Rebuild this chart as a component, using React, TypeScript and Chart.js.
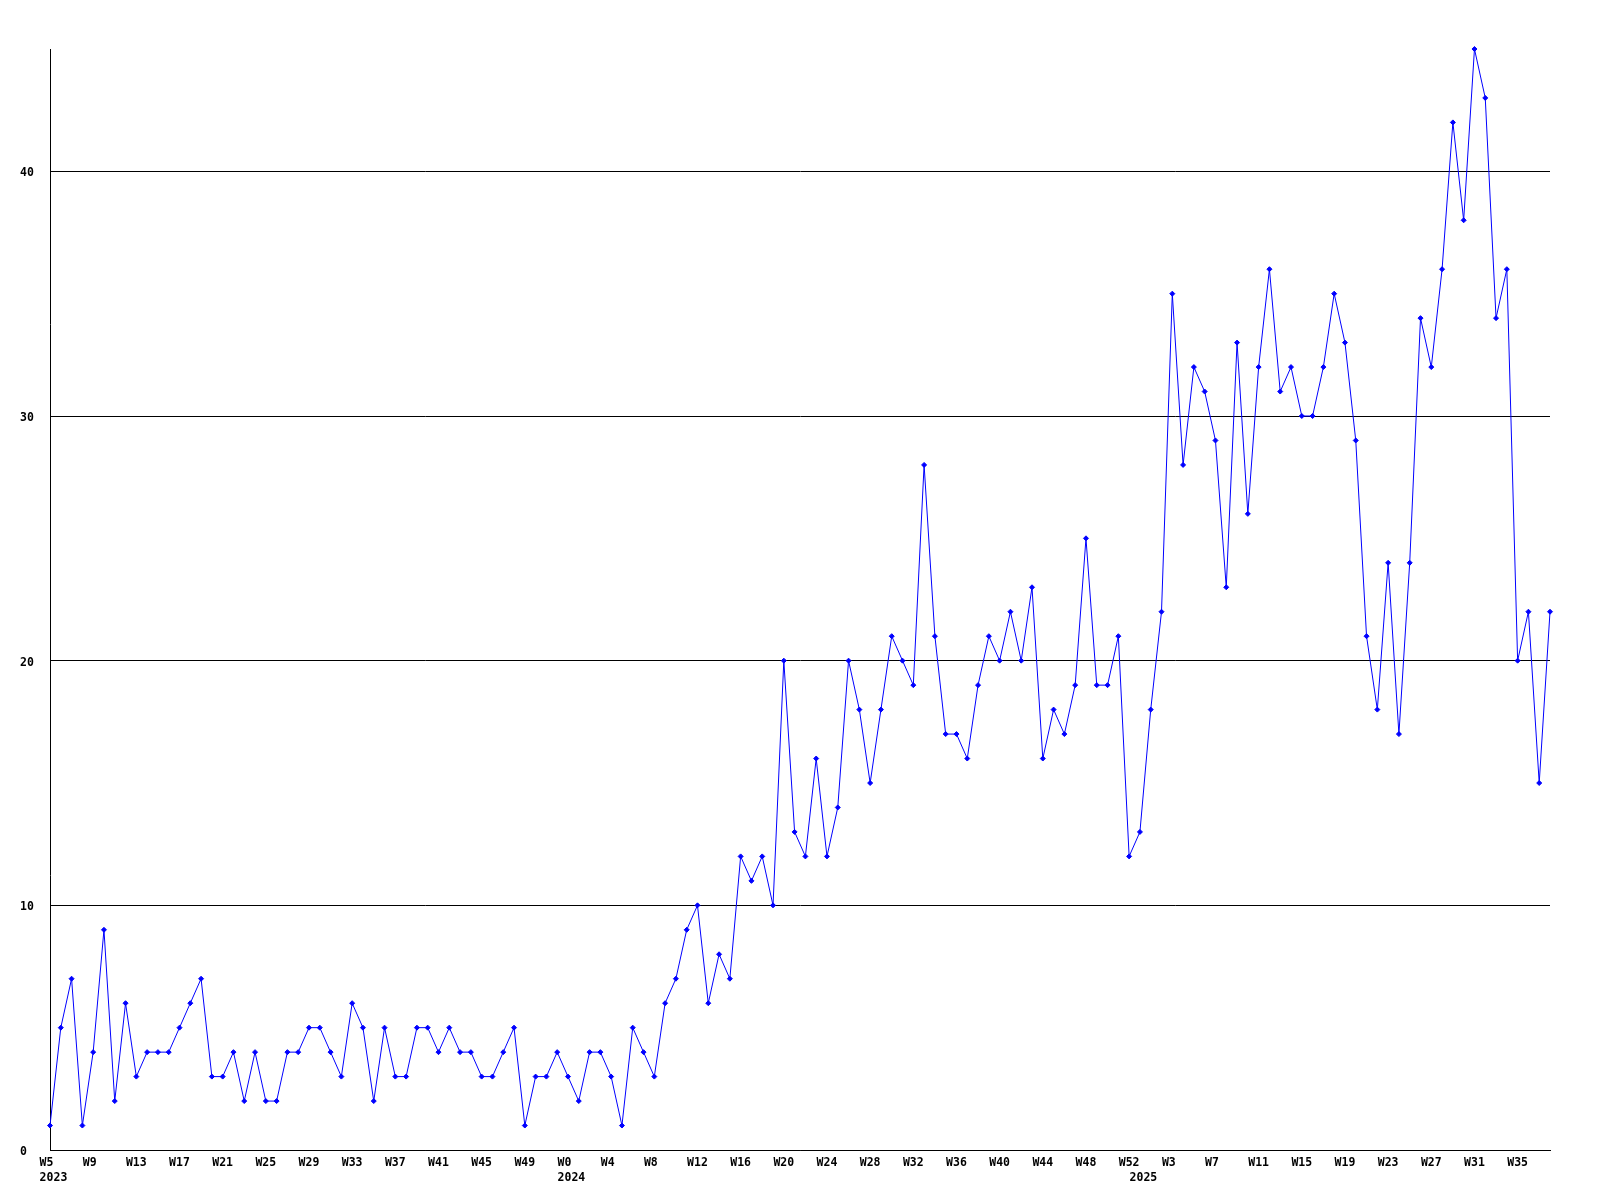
import React, { useEffect, useRef } from "react";
import { Chart, registerables } from "chart.js";

Chart.register(...registerables);

// Week ranges per year (first week, last week)
const years = [2023, 2024, 2025];
const firstWeeks = [5, 0, 0];
const lastWeeks = [52, 52, 38];

// Weekly counts, W5 2023 .. W38 2025
const values2023 = [
  1, 5, 7, 1, 4, 9, 2, 6, 3, 4, 4, 4, 5, 6, 7, 3, 3, 4, 2, 4, 2, 2, 4, 4,
  5, 5, 4, 3, 6, 5, 2, 5, 3, 3, 5, 5, 4, 5, 4, 4, 3, 3, 4, 5, 1, 3, 3, 4,
];
const values2024 = [
  3, 2, 4, 4, 3, 1, 5, 4, 3, 6, 7, 9, 10, 6, 8, 7, 12, 11, 12, 10, 20, 13,
  12, 16, 12, 14, 20, 18, 15, 18, 21, 20, 19, 28, 21, 17, 17, 16, 19, 21, 20,
  22, 20, 23, 16, 18, 17, 19, 25, 19, 19, 21, 12,
];
const values2025 = [
  13, 18, 22, 35, 28, 32, 31, 29, 23, 33, 26, 32, 36, 31, 32, 30, 30, 32, 35,
  33, 29, 21, 18, 24, 17, 24, 34, 32, 36, 42, 38, 45, 43, 34, 36, 20, 22, 15,
  22,
];

const yTicks = [0, 10, 20, 30, 40];
const yMax = 45;

const categories: string[] = [];
const yearOfIndex: number[] = [];
years.forEach((y, yi) => {
  for (let w = firstWeeks[yi]; w <= lastWeeks[yi]; w++) {
    categories.push("W" + w);
    yearOfIndex.push(y);
  }
});
const seriesValues = [...values2023, ...values2024, ...values2025];

const FAMILY = "'DejaVu Sans Mono', monospace";
const XFONT = { family: FAMILY, size: 11.5, weight: "bold" as const, lineHeight: 1.3 };
const YFONT = { family: FAMILY, size: 11.5, weight: "bold" as const, lineHeight: "4px" };

export default function App() {
  const ref = useRef<HTMLCanvasElement | null>(null);

  useEffect(() => {
    if (!ref.current) return;
    const chart = new Chart(ref.current, {
      type: "line",
      data: {
        labels: categories,
        datasets: [
          {
            data: seriesValues,
            borderColor: "#0000ff",
            backgroundColor: "#0000ff",
            borderWidth: 1,
            tension: 0,
            fill: false,
            pointStyle: "rectRot",
            pointRadius: 2.5,
            pointBorderWidth: 1,
            pointBackgroundColor: "#0000ff",
            pointBorderColor: "#0000ff",
            clip: false as any,
          },
        ],
      },
      options: {
        responsive: false,
        animation: false,
        devicePixelRatio: 1,
        layout: { padding: { left: 20, top: 49, right: 50, bottom: 0 } },
        plugins: {
          legend: { display: false },
          tooltip: { enabled: false },
          title: { display: false },
        },
        scales: {
          x: {
            type: "category",
            offset: false,
            grid: { display: false, drawTicks: false },
            border: { display: true, color: "#000000", width: 1 },
            ticks: {
              autoSkip: false,
              maxRotation: 0,
              minRotation: 0,
              padding: 5.5,
              color: "#000000",
              font: XFONT,
              callback: (_v: any, index: number) => {
                const week = index % 4 === 0 ? categories[index].padEnd(3, " ") : "";
                const firstOfYear = index === 0 || yearOfIndex[index] !== yearOfIndex[index - 1];
                if (firstOfYear) return [week, " " + yearOfIndex[index]];
                return week;
              },
            },
            afterFit: (s: any) => {
              s.height = 50;
            },
          },
          y: {
            type: "linear",
            min: 0,
            max: yMax,
            grid: { display: true, color: "#000000", lineWidth: 1, drawTicks: false },
            border: { display: true, color: "#000000", width: 1 },
            ticks: {
              color: "#000000",
              font: YFONT as any,
              crossAlign: "far",
              padding: 0,
              callback: (v: any) => ["", String(v)],
            },
            afterBuildTicks: (s: any) => {
              s.ticks = yTicks.map((v) => ({ value: v }));
            },
            afterFit: (s: any) => {
              s.width = 30;
            },
          },
        },
      },
    });
    return () => chart.destroy();
  }, []);

  return (
    <div style={{ position: "absolute", left: 0, top: 0, width: 1600, height: 1200, background: "#ffffff" }}>
      <canvas ref={ref} width={1600} height={1200} style={{ display: "block" }} />
    </div>
  );
}
